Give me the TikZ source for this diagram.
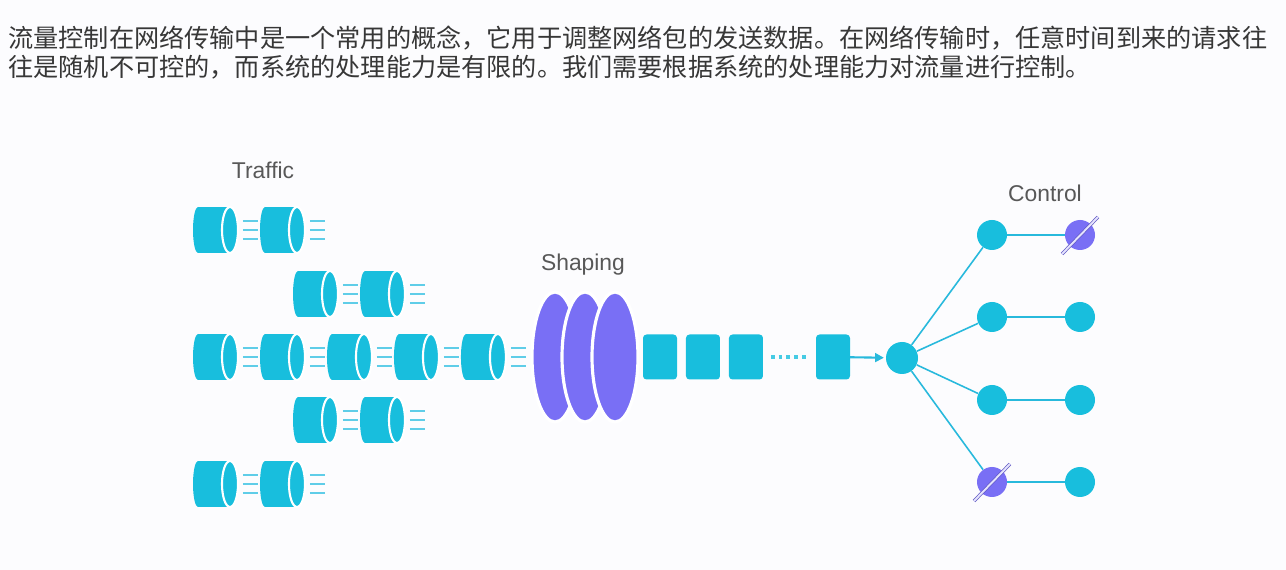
\documentclass[tikz,border=0pt]{standalone}
\usepackage{fontspec}
\setmainfont{Liberation Sans}
\newfontfamily\cjk{Noto Sans CJK SC}
\usepackage{tikz}
\usetikzlibrary{shapes, arrows.meta, positioning}
\definecolor{pktblue}{RGB}{24,190,221}
\definecolor{tieblue}{RGB}{40,185,220}
\definecolor{speedblue}{RGB}{95,205,232}
\definecolor{shapepurple}{RGB}{121,111,245}
\definecolor{labelgray}{RGB}{88,88,88}
\definecolor{textgray}{RGB}{55,55,55}
\definecolor{bgwhite}{RGB}{252,252,254}

\begin{document}
\begin{tikzpicture}[x=0.02cm, y=-0.02cm, node distance=0.7cm,
  pkt/.style={rectangle, fill=pktblue, minimum width=0.64cm, minimum height=0.92cm,
    inner sep=0pt, outer sep=0pt},
  lid/.style={fill=pktblue, draw=white, line width=1.2pt},
  speed/.style={speedblue, line width=1.6pt},
  shaper/.style={ellipse, draw=white, line width=1.8pt, fill=shapepurple,
    minimum width=0.92cm, minimum height=2.6cm, inner sep=0pt},
  blk/.style={rectangle, rounded corners=2pt, fill=pktblue, minimum width=0.68cm,
    minimum height=0.9cm, inner sep=0pt, outer sep=0pt},
  ctl/.style={circle, fill=pktblue, minimum size=0.6cm, inner sep=0pt},
  dropped/.style={ctl, fill=shapepurple},
  tie/.style={tieblue, line width=0.9pt},
  slash/.style={draw=shapepurple!80!black, double=white!80!shapepurple, line width=0.4pt,
    double distance=1.1pt},
  lbl/.style={text=labelgray, font=\fontsize{13pt}{15pt}\selectfont},
  para/.style={anchor=west, text=textgray, inner sep=0pt,
    font=\cjk\fontsize{14.33pt}{17pt}\selectfont}]
	\fill[bgwhite] (0,0) rectangle (1286,570);
	\useasboundingbox (0,0) rectangle (1286,570);

	\node[para] (l1) at (8,38) {流量控制在网络传输中是一个常用的概念，它用于调整网络包的发送数据。在网络传输时，任意时间到来的请求往};
	\node[para] (l2) at (8,67) {往是随机不可控的，而系统的处理能力是有限的。我们需要根据系统的处理能力对流量进行控制。};

	% traffic
	\node[lbl] (traffic) at (263,170) {Traffic};
	\node[pkt] (a1) at (214,230) {};
	\node[pkt, right=of a1] (a2) {};
	\node[pkt] (b1) at (314,294) {};
	\node[pkt, right=of b1] (b2) {};
	\node[pkt] (c1) at (214,357) {};
	\node[pkt, right=of c1] (c2) {};
	\node[pkt, right=of c2] (c3) {};
	\node[pkt, right=of c3] (c4) {};
	\node[pkt, right=of c4] (c5) {};
	\node[pkt] (d1) at (314,420) {};
	\node[pkt, right=of d1] (d2) {};
	\node[pkt] (e1) at (214,484) {};
	\node[pkt, right=of e1] (e2) {};
	\foreach \c in {a1,a2,b1,b2,c1,c2,c3,c4,c5,d1,d2,e1,e2} {
		\fill[pktblue] (\c.west) ellipse [x radius=0.1cm, y radius=0.46cm];
		\filldraw[lid] (\c.east) ellipse [x radius=0.16cm, y radius=0.46cm];
		\foreach \dy in {-9,0,9}
			\draw[speed] ([shift={(13,\dy)}]\c.east) -- ++(15,0);
	}

	% shaping
	\node[lbl] (shaping) at (583,265) {Shaping};
	\node[shaper] (s1) at (555,357) {};
	\node[shaper] (s2) at (585,357) {};
	\node[shaper] (s3) at (615,357) {};
	\node[blk] (q1) at (660,357) {};
	\node[blk, right=0.18cm of q1] (q2) {};
	\node[blk, right=0.18cm of q2] (q3) {};
	\node[blk] (q4) at (833,357) {};
	\draw[pktblue!80, line width=2pt, dash pattern=on 2.2pt off 2.2pt,
		shorten <=4.5pt, shorten >=4.5pt] (q3) -- (q4);

	% control
	\node[lbl] (control) at (1045,193) {Control};
	\node[ctl, minimum size=0.64cm] (hub) at (902,358) {};
	\draw[tie, line width=1.2pt, -{Triangle[length=5pt, width=5pt]}, shorten >=1pt] (q4) -- (hub);
	\node[ctl] (k1) at (992,235) {};
	\node[ctl] (k2) at (992,317) {};
	\node[ctl] (k3) at (992,400) {};
	\node[dropped] (k4) at (992,482) {};
	\node[dropped] (m1) at (1080,235) {};
	\node[ctl] (m2) at (1080,317) {};
	\node[ctl] (m3) at (1080,400) {};
	\node[ctl] (m4) at (1080,482) {};
	\foreach \i in {1,...,4} {
		\draw[tie] (hub) -- (k\i);
		\draw[tie] (k\i) -- (m\i);
	}
	\draw[slash] ([shift={(-18,19)}]m1.center) -- ([shift={(18,-18)}]m1.center);
	\draw[slash] ([shift={(-18,19)}]k4.center) -- ([shift={(18,-18)}]k4.center);
\end{tikzpicture}
\end{document}
